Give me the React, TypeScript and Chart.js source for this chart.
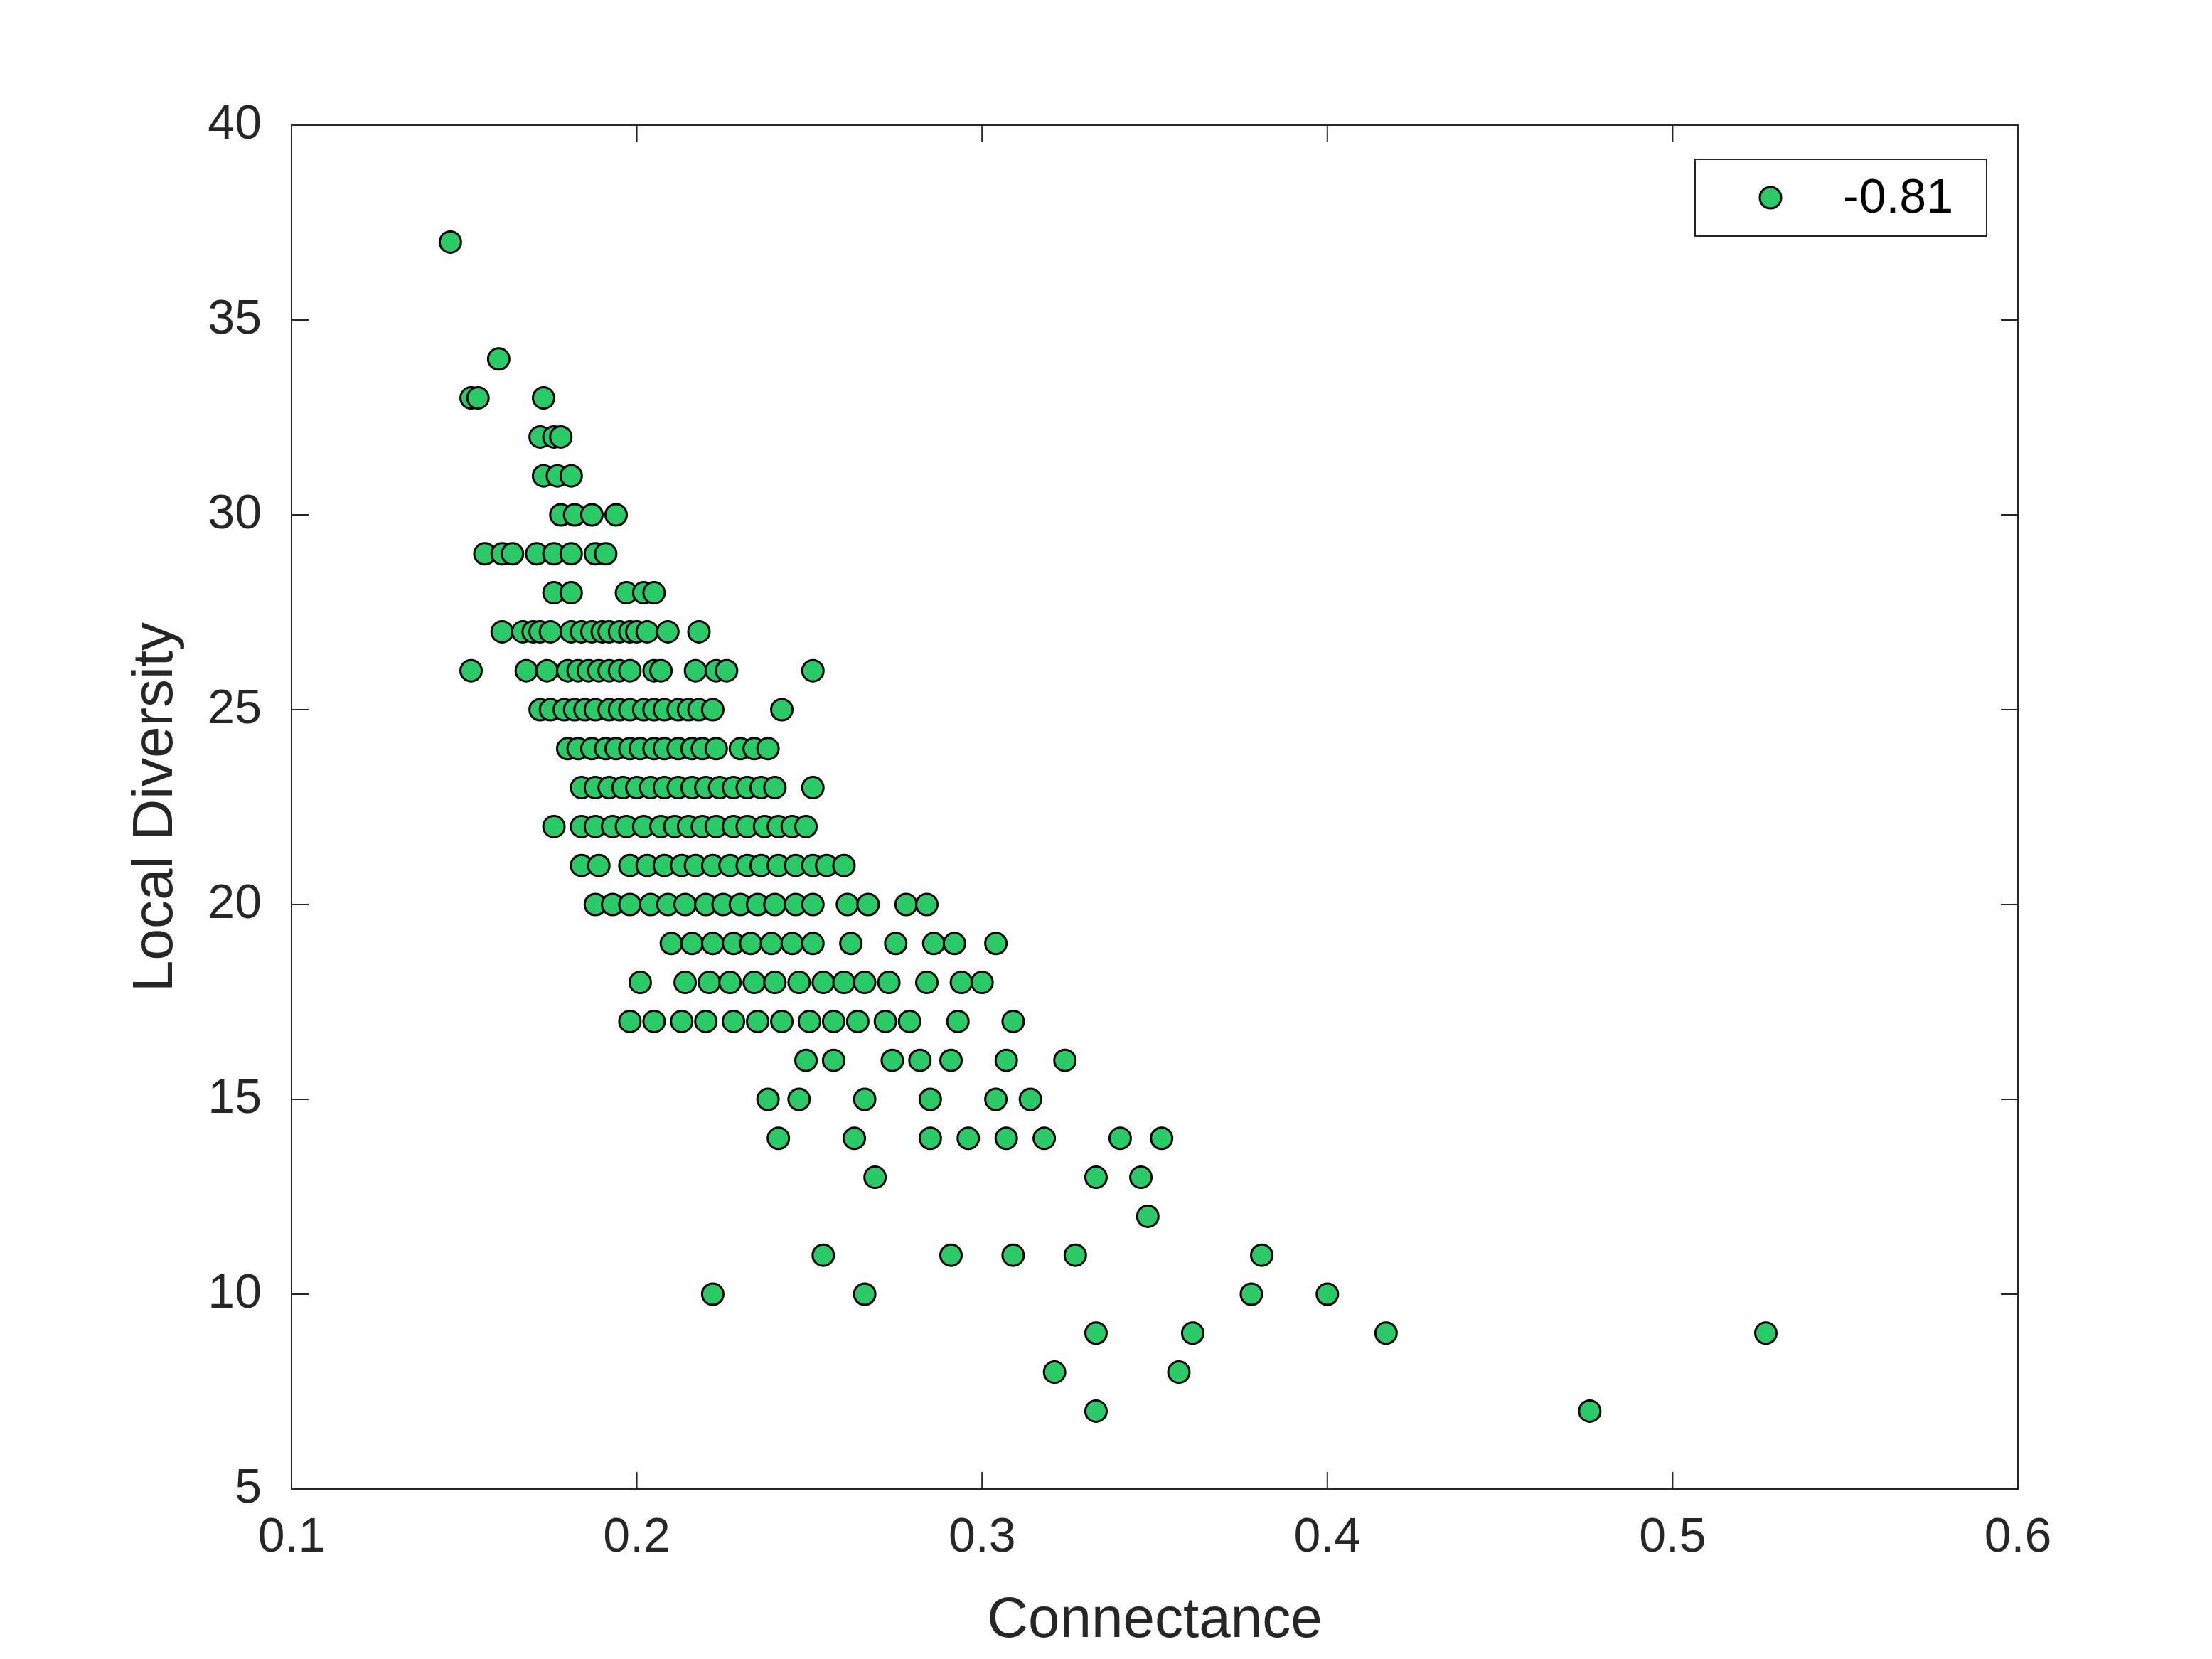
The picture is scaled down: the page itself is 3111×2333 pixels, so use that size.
import React, { useEffect, useRef } from "react";
import { Chart, registerables } from "chart.js";

Chart.register(...registerables);

// local diversity level for each row of points
const diversityLevels = [37, 34, 33, 32, 31, 30, 29, 28, 27, 26, 25, 24, 23, 22, 21, 20, 19, 18, 17, 16, 15, 14, 13, 12, 11, 10, 9, 8, 7];

// connectance values at each diversity level
const connectanceByLevel = [
  [0.146],
  [0.16],
  [0.152, 0.154, 0.173],
  [0.172, 0.176, 0.178],
  [0.173, 0.177, 0.181],
  [0.178, 0.182, 0.187, 0.194],
  [0.156, 0.161, 0.164, 0.171, 0.176, 0.181, 0.188, 0.191],
  [0.176, 0.181, 0.197, 0.202, 0.205],
  [0.161, 0.167, 0.17, 0.172, 0.175, 0.181, 0.184, 0.187, 0.19, 0.192, 0.195, 0.198, 0.2, 0.203, 0.209, 0.218],
  [0.152, 0.168, 0.174, 0.18, 0.183, 0.186, 0.189, 0.192, 0.195, 0.198, 0.205, 0.207, 0.217, 0.223, 0.226, 0.251],
  [0.172, 0.175, 0.179, 0.182, 0.185, 0.188, 0.192, 0.195, 0.198, 0.202, 0.205, 0.208, 0.212, 0.215, 0.218, 0.222, 0.242],
  [0.18, 0.183, 0.187, 0.191, 0.194, 0.198, 0.201, 0.205, 0.208, 0.212, 0.216, 0.219, 0.223, 0.23, 0.234, 0.238],
  [0.184, 0.188, 0.192, 0.196, 0.2, 0.204, 0.208, 0.212, 0.216, 0.22, 0.224, 0.228, 0.232, 0.236, 0.24, 0.251],
  [0.176, 0.184, 0.188, 0.193, 0.197, 0.202, 0.207, 0.211, 0.215, 0.219, 0.223, 0.228, 0.232, 0.237, 0.241, 0.245, 0.249],
  [0.184, 0.189, 0.198, 0.203, 0.208, 0.213, 0.217, 0.222, 0.227, 0.232, 0.236, 0.241, 0.246, 0.251, 0.255, 0.26],
  [0.188, 0.193, 0.198, 0.204, 0.209, 0.214, 0.22, 0.225, 0.23, 0.235, 0.24, 0.246, 0.251, 0.261, 0.267, 0.278, 0.284],
  [0.21, 0.216, 0.222, 0.228, 0.233, 0.239, 0.245, 0.251, 0.262, 0.275, 0.286, 0.292, 0.304],
  [0.201, 0.214, 0.221, 0.227, 0.234, 0.24, 0.247, 0.254, 0.26, 0.266, 0.273, 0.284, 0.294, 0.3],
  [0.198, 0.205, 0.213, 0.22, 0.228, 0.235, 0.242, 0.25, 0.257, 0.264, 0.272, 0.279, 0.293, 0.309],
  [0.249, 0.257, 0.274, 0.282, 0.291, 0.307, 0.324],
  [0.238, 0.247, 0.266, 0.285, 0.304, 0.314],
  [0.241, 0.263, 0.285, 0.296, 0.307, 0.318, 0.34, 0.352],
  [0.269, 0.333, 0.346],
  [0.348],
  [0.254, 0.291, 0.309, 0.327, 0.381],
  [0.222, 0.266, 0.378, 0.4],
  [0.333, 0.361, 0.417, 0.527],
  [0.321, 0.357],
  [0.333, 0.476],
];

const xTicks = [0.1, 0.2, 0.3, 0.4, 0.5, 0.6];
const yTicks = [5, 10, 15, 20, 25, 30, 35, 40];
const legendLabel = "-0.81";

const INK = "#262626";
const FILL = "#2ACB67";

const frame = {
  id: "frame",
  afterDraw(chart: any) {
    const { ctx, chartArea: a, scales } = chart;
    ctx.save();
    ctx.strokeStyle = INK;
    ctx.lineWidth = 2;
    ctx.strokeRect(a.left, a.top, a.right - a.left, a.bottom - a.top);
    const t = 24;
    ctx.beginPath();
    xTicks.forEach((v) => {
      const px = scales.x.getPixelForValue(v);
      ctx.moveTo(px, a.bottom); ctx.lineTo(px, a.bottom - t);
      ctx.moveTo(px, a.top); ctx.lineTo(px, a.top + t);
    });
    yTicks.forEach((v) => {
      const py = scales.y.getPixelForValue(v);
      ctx.moveTo(a.left, py); ctx.lineTo(a.left + t, py);
      ctx.moveTo(a.right, py); ctx.lineTo(a.right - t, py);
    });
    ctx.stroke();
    // legend box
    const bx = a.right - 454, by = a.top + 48, bw = 410, bh = 108;
    ctx.fillStyle = "#fff";
    ctx.fillRect(bx, by, bw, bh);
    ctx.lineWidth = 2;
    ctx.strokeRect(bx, by, bw, bh);
    ctx.beginPath();
    ctx.arc(bx + 106, by + bh / 2, 15, 0, Math.PI * 2);
    ctx.fillStyle = FILL;
    ctx.fill();
    ctx.lineWidth = 3;
    ctx.strokeStyle = "#000";
    ctx.stroke();
    ctx.fillStyle = "#000";
    ctx.font = "68px 'Liberation Sans', Arial, sans-serif";
    ctx.textBaseline = "middle";
    ctx.fillText(legendLabel, bx + 208, by + bh / 2 + 2);
    ctx.restore();
  },
};

export default function App(): React.JSX.Element {
  const canvasRef = useRef<HTMLCanvasElement | null>(null);

  useEffect(() => {
    if (!canvasRef.current) return;
    document.body.style.margin = "0";

    const points = diversityLevels.flatMap((level, i) =>
      connectanceByLevel[i].map((c) => ({ x: c, y: level })),
    );
    const font = { family: "'Liberation Sans', Arial, sans-serif", size: 68 };

    const chart = new Chart(canvasRef.current, {
      type: "scatter",
      data: {
        datasets: [
          {
            label: legendLabel,
            data: points,
            backgroundColor: FILL,
            borderColor: "#000",
            borderWidth: 3,
            pointRadius: 15,
          },
        ],
      },
      options: {
        animation: false,
        responsive: false,
        devicePixelRatio: 1,
        layout: { padding: { top: 176, right: 273, left: 0, bottom: 0 } },
        plugins: { legend: { display: false }, tooltip: { enabled: false } },
        scales: {
          x: {
            type: "linear",
            min: 0.1,
            max: 0.6,
            afterBuildTicks: (s: any) => { s.ticks = xTicks.map((v) => ({ value: v })); },
            afterFit: (s: any) => { s.height = 239; },
            grid: { display: false },
            border: { display: false },
            ticks: { color: INK, font, padding: 20, callback: (v: any) => String(v) },
            title: { display: true, text: "Connectance", color: INK, font: { ...font, size: 80 }, padding: { top: 5, bottom: 5 } },
          },
          y: {
            type: "linear",
            min: 5,
            max: 40,
            afterBuildTicks: (s: any) => { s.ticks = yTicks.map((v) => ({ value: v })); },
            afterFit: (s: any) => { s.width = 410; },
            grid: { display: false },
            border: { display: false },
            ticks: { color: INK, font, padding: 34 },
            title: { display: true, text: "Local Diversity", color: INK, font: { ...font, size: 80 }, padding: { top: 172, bottom: 172 } },
          },
        },
      },
      plugins: [frame],
    });

    return () => {
      chart.destroy();
    };
  }, []);

  return <canvas ref={canvasRef} width={3111} height={2333} style={{ display: "block" }} />;
}
